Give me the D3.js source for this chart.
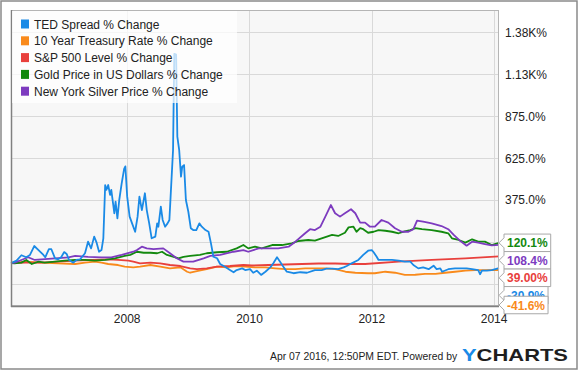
<!DOCTYPE html>
<html><head><meta charset="utf-8">
<script src="https://cdn.jsdelivr.net/npm/d3@7"></script>
<style>html,body{margin:0;padding:0;background:#fff;}svg{display:block;font-family:"Liberation Sans",Arial,sans-serif;}</style>
</head><body>
<svg id="c" width="580" height="371"></svg>
<script>
const seriesNames = ["TED Spread % Change","10 Year Treasury Rate % Change","S&P 500 Level % Change","Gold Price in US Dollars % Change","New York Silver Price % Change"];
const seriesColors = ["#1a8ae6","#f98a1b","#e8403c","#13890f","#7d3bbf"];
const yTicks = [-125,125,375,625,875,1125,1375];
const xTicks = [2008,2010,2012,2014];
const dateRange = [2006.10, 2014.08];

// [decimal year, % change]
const ted = [[2006.10,0],[2006.19,14],[2006.27,46],[2006.35,34],[2006.41,48],[2006.48,101],[2006.55,77],[2006.63,48],[2006.66,34],[2006.72,83],[2006.76,82],[2006.82,28],[2006.87,22],[2006.92,34],[2006.97,65],[2007.01,54],[2007.05,18],[2007.12,2],[2007.17,18],[2007.23,22],[2007.31,58],[2007.36,127],[2007.41,87],[2007.46,157],[2007.50,121],[2007.54,67],[2007.58,77],[2007.61,147],[2007.64,464],[2007.66,435],[2007.69,464],[2007.72,405],[2007.74,435],[2007.79,296],[2007.81,365],[2007.84,266],[2007.87,375],[2007.91,474],[2007.95,560],[2007.97,575],[2008.00,395],[2008.04,276],[2008.08,236],[2008.13,186],[2008.17,276],[2008.20,395],[2008.24,315],[2008.29,415],[2008.32,315],[2008.36,236],[2008.40,147],[2008.46,157],[2008.49,236],[2008.51,216],[2008.55,335],[2008.58,256],[2008.62,216],[2008.66,236],[2008.69,256],[2008.71,395],[2008.75,673],[2008.77,1245],[2008.80,1240],[2008.82,752],[2008.85,673],[2008.88,514],[2008.90,573],[2008.93,583],[2008.96,375],[2009.00,305],[2009.04,207],[2009.08,196],[2009.13,196],[2009.18,236],[2009.22,216],[2009.28,196],[2009.33,186],[2009.37,117],[2009.41,37],[2009.47,28],[2009.52,-6],[2009.60,-22],[2009.68,-42],[2009.74,-55],[2009.79,-42],[2009.88,-32],[2009.93,-42],[2010.01,-37],[2010.06,-58],[2010.12,-46],[2010.19,-71],[2010.26,-52],[2010.34,-26],[2010.39,-2],[2010.45,34],[2010.50,8],[2010.56,-26],[2010.61,-52],[2010.72,-61],[2010.83,-55],[2010.94,-58],[2011.07,-42],[2011.18,-42],[2011.26,-34],[2011.35,-34],[2011.45,-37],[2011.54,-26],[2011.59,-18],[2011.67,-2],[2011.78,18],[2011.86,48],[2011.94,73],[2012.00,77],[2012.03,64],[2012.08,37],[2012.11,18],[2012.22,18],[2012.33,18],[2012.44,14],[2012.54,8],[2012.63,8],[2012.68,-12],[2012.76,-32],[2012.84,-26],[2012.93,-37],[2013.01,-16],[2013.06,-37],[2013.12,-32],[2013.15,-52],[2013.25,-37],[2013.36,-32],[2013.47,-32],[2013.55,-32],[2013.64,-37],[2013.74,-42],[2013.77,-67],[2013.80,-46],[2013.88,-46],[2013.96,-42],[2014.08,-30.9]];
const treasury = [[2006.10,0],[2006.33,8],[2006.60,2],[2006.87,-2],[2007.15,-6],[2007.31,2],[2007.47,8],[2007.58,2],[2007.69,-6],[2007.85,-12],[2007.96,-22],[2008.10,-26],[2008.21,-22],[2008.38,-12],[2008.54,-22],[2008.70,-32],[2008.87,-26],[2008.98,-52],[2009.03,-58],[2009.14,-48],[2009.30,-37],[2009.47,-22],[2009.63,-26],[2009.77,-18],[2009.93,-22],[2010.09,-26],[2010.26,-26],[2010.42,-32],[2010.58,-37],[2010.75,-37],[2010.91,-32],[2011.07,-32],[2011.24,-32],[2011.40,-37],[2011.57,-52],[2011.73,-58],[2011.94,-61],[2012.05,-61],[2012.22,-52],[2012.38,-58],[2012.54,-71],[2012.71,-70],[2012.87,-65],[2013.04,-65],[2013.20,-58],[2013.36,-52],[2013.53,-46],[2013.69,-42],[2013.85,-42],[2014.08,-41.6]];
const sp500 = [[2006.10,0],[2006.33,2],[2006.60,2],[2006.87,8],[2007.15,14],[2007.42,18],[2007.69,22],[2007.85,18],[2008.02,14],[2008.10,8],[2008.21,-2],[2008.38,2],[2008.54,-2],[2008.70,-12],[2008.87,-18],[2009.03,-32],[2009.14,-37],[2009.30,-32],[2009.47,-22],[2009.68,-18],[2009.90,-12],[2010.04,-15],[2010.31,-12],[2010.58,-9],[2010.86,-6],[2011.13,-3],[2011.40,-3],[2011.67,-6],[2011.89,-6],[2012.44,8],[2012.98,18],[2013.53,28],[2014.08,39.0]];
const gold = [[2006.10,0],[2006.16,-2],[2006.27,2],[2006.35,18],[2006.44,-6],[2006.55,8],[2006.65,2],[2006.82,8],[2006.98,14],[2007.15,18],[2007.31,18],[2007.47,14],[2007.64,18],[2007.80,28],[2007.96,42],[2008.05,48],[2008.16,67],[2008.27,61],[2008.38,61],[2008.49,58],[2008.57,67],[2008.65,48],[2008.76,37],[2008.84,28],[2008.92,37],[2009.03,42],[2009.19,48],[2009.30,58],[2009.47,64],[2009.63,67],[2009.79,87],[2009.90,107],[2009.98,87],[2010.09,97],[2010.20,87],[2010.37,107],[2010.53,107],[2010.69,117],[2010.80,131],[2010.96,137],[2011.07,133],[2011.18,147],[2011.35,167],[2011.45,161],[2011.56,180],[2011.62,212],[2011.70,216],[2011.75,186],[2011.81,207],[2011.86,201],[2011.94,180],[2012.03,186],[2012.11,196],[2012.22,192],[2012.33,186],[2012.44,177],[2012.52,186],[2012.63,196],[2012.71,207],[2012.82,201],[2012.98,196],[2013.14,186],[2013.25,177],[2013.31,147],[2013.42,137],[2013.53,121],[2013.64,141],[2013.74,127],[2013.85,127],[2013.96,107],[2014.08,120.1]];
const silver = [[2006.10,0],[2006.16,2],[2006.27,18],[2006.38,34],[2006.49,18],[2006.60,22],[2006.82,28],[2007.04,34],[2007.15,42],[2007.36,37],[2007.58,34],[2007.74,34],[2007.91,48],[2008.10,67],[2008.16,77],[2008.24,97],[2008.32,87],[2008.43,82],[2008.59,87],[2008.70,58],[2008.81,28],[2008.92,8],[2009.08,8],[2009.25,28],[2009.36,42],[2009.52,48],[2009.74,67],[2009.90,77],[2009.98,67],[2010.15,87],[2010.31,87],[2010.47,87],[2010.64,97],[2010.75,127],[2010.91,177],[2010.99,201],[2011.07,196],[2011.16,216],[2011.24,276],[2011.33,345],[2011.40,296],[2011.48,276],[2011.56,296],[2011.66,320],[2011.73,296],[2011.81,240],[2011.89,240],[2011.97,216],[2012.05,216],[2012.16,256],[2012.27,240],[2012.38,207],[2012.49,186],[2012.60,186],[2012.68,201],[2012.74,252],[2012.84,246],[2012.98,236],[2013.14,220],[2013.25,201],[2013.34,167],[2013.44,133],[2013.55,103],[2013.64,127],[2013.74,121],[2013.85,113],[2013.96,105],[2014.08,108.4]];

const allSeries = [ted, treasury, sp500, gold, silver];

const svg = d3.select("#c");
const L = 11, R = 499, T = 10, B = 306;
const x = d3.scaleLinear().domain(dateRange).range([L, R]);
const y = d3.scaleLinear().domain([-256, 1506]).range([B, T]);

// outer border
svg.append("rect").attr("x",1).attr("y",1).attr("width",576).attr("height",368)
  .attr("fill","#fff").attr("stroke","#8a8a8a").attr("stroke-width",1.5);

// plot background
svg.append("rect").attr("x",L).attr("y",T).attr("width",R-L).attr("height",B-T).attr("fill","#f7f7f7");

// grid
const grid = svg.append("g");
grid.selectAll("line.h").data(yTicks).join("line")
  .attr("x1",L).attr("x2",R).attr("y1",d=>Math.round(y(d))+0.5).attr("y2",d=>Math.round(y(d))+0.5)
  .attr("stroke","#d9d9d9").attr("stroke-width",1);
grid.selectAll("line.v").data(xTicks).join("line")
  .attr("y1",T).attr("y2",B).attr("x1",d=>Math.round(x(d))+0.5).attr("x2",d=>Math.round(x(d))+0.5)
  .attr("stroke","#d9d9d9").attr("stroke-width",1);

// lines
const line = d3.line().x(d=>x(d[0])).y(d=>y(d[1])).curve(d3.curveLinear);
const order = [1,2,3,4,0];
svg.append("g").selectAll("path").data(order).join("path")
  .attr("d",i=>line(allSeries[i])).attr("fill","none")
  .attr("stroke",i=>seriesColors[i]).attr("stroke-width",1.8).attr("stroke-linejoin","round");

// plot frame
svg.append("rect").attr("x",L+0.5).attr("y",T+0.5).attr("width",R-L-1).attr("height",B-T-1)
  .attr("fill","none").attr("stroke","#b5b5b5");
svg.append("line").attr("x1",L+0.5).attr("x2",L+0.5).attr("y1",T).attr("y2",B+1).attr("stroke","#808080").attr("stroke-width",1.5);
svg.append("line").attr("x1",L).attr("x2",R).attr("y1",B+0.5).attr("y2",B+0.5).attr("stroke","#808080").attr("stroke-width",1.5);

// x axis labels
svg.append("g").selectAll("text").data(xTicks).join("text")
  .attr("x",d=>x(d)).attr("y",323).attr("text-anchor","middle")
  .attr("font-size",12).attr("fill","#222").text(d=>d);

// end flags layout (computed first so hidden axis labels can be skipped)
const flagText = v => { const a=Math.abs(v); if (a>=100 || v<0) return v.toFixed(1)+"%"; return v.toFixed(2)+"%"; };
const ends = allSeries.map((s,i)=>({i, v:s[s.length-1][1]}));
const sorted = ends.slice().sort((a,b)=>b.v-a.v);
const H = 17.5;
let prevBottom = -Infinity;
sorted.forEach(e=>{
  let cy = Math.max(y(e.v), prevBottom + H/2);
  cy = Math.min(cy, 305);
  e.cy = cy; prevBottom = cy + H/2;
});

// y axis labels (those covered by end flags are hidden, as in the original)
const fmtY = v => Math.abs(v) >= 1000 ? d3.format(".3")(v/1000) + "K%" : d3.format(".1f")(v) + "%";
const visibleTicks = yTicks.filter(t => !sorted.some(e => Math.abs(y(t) - e.cy) < H/2 + 5));
svg.append("g").selectAll("text").data(visibleTicks).join("text")
  .attr("x",505).attr("y",d=>y(d)+4.5).attr("font-size",12).attr("fill","#222").text(fmtY);

// legend
const leg = svg.append("g");
leg.append("rect").attr("x",L+1).attr("y",T+1).attr("width",225).attr("height",92).attr("fill","#fff").attr("fill-opacity",0.72);
seriesNames.forEach((n,i)=>{
  const cy = 24 + i*16.8;
  leg.append("rect").attr("x",21).attr("y",cy-4.5).attr("width",8).attr("height",9).attr("fill",seriesColors[i]);
  leg.append("text").attr("x",34).attr("y",cy+4.5).attr("font-size",12).attr("fill","#222").text(n);
});

// flags
const flags = svg.append("g");
sorted.forEach(e=>{
  const g = flags.append("g");
  const t = g.append("text").attr("x",507).attr("y",e.cy+4.5).attr("font-size",12).attr("font-weight","bold")
    .attr("fill",seriesColors[e.i]).text(flagText(e.v));
  const w = t.node().getComputedTextLength();
  const x0 = 504, x1 = 504 + w + 6, top = e.cy - H/2, bot = e.cy + H/2;
  g.insert("path","text").attr("d",`M${x0-5},${e.cy} L${x0},${e.cy-5} L${x0},${top} L${x1},${top} L${x1},${bot} L${x0},${bot} L${x0},${e.cy+5} Z`)
    .attr("fill","#fff").attr("stroke","#a8a8a8").attr("stroke-width",1);
});

// footer
svg.append("text").attr("x",270).attr("y",360).attr("font-size",10.4).attr("fill","#222")
  .text("Apr 07 2016, 12:50PM EDT.  Powered by");
const logo = svg.append("text").attr("x",462).attr("y",361).attr("font-size",17).attr("font-weight","900")
  .attr("textLength",106).attr("lengthAdjust","spacingAndGlyphs");
logo.append("tspan").attr("fill","#1a8ae6").text("Y");
logo.append("tspan").attr("fill","#1e1e1e").text("CHARTS");
</script>
</body></html>
